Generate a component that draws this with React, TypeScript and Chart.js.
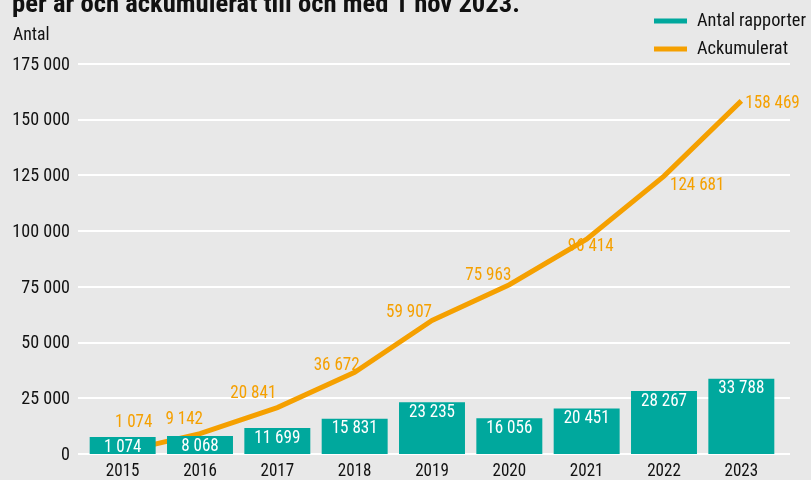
import React, { useEffect, useRef } from "react";
import { Chart, registerables } from "chart.js";

Chart.register(...registerables);

const years = ["2015", "2016", "2017", "2018", "2019", "2020", "2021", "2022", "2023"];
const reports = [1074, 8068, 11699, 15831, 23235, 16056, 20451, 28267, 33788];
const accumulated = [1074, 9142, 20841, 36672, 59907, 75963, 96414, 124681, 158469];
const yTicks = [0, 25000, 50000, 75000, 100000, 125000, 150000, 175000];

const titleText = "per år och ackumulerat till och med 1 nov 2023.";
const yAxisTitle = "Antal";
const seriesNames = ["Antal rapporter", "Ackumulerat"];

// label placement for line labels: [align, dx, dy]
const lineLabelPlacement: [CanvasTextAlign, number, number][] = [
  ["center", 11, -29],
  ["right", 3, -14],
  ["right", -1, -14],
  ["right", 5, -7],
  ["right", 0, -8],
  ["right", 2, -9],
  ["center", 4, 7],
  ["left", 6, 9],
  ["left", 4, 2],
];

const TEAL = "#00A89D";
const ORANGE = "#F5A000";
const BG = "#E8E8E8";
const INK = "#111111";
const FONT = "'Roboto Condensed', 'Liberation Sans Narrow', 'DejaVu Sans Condensed', 'DejaVu Sans', sans-serif";
const BODY = `19px ${FONT}`;
const TITLE = `bold 25px ${FONT}`;

const fmt = (n: number) => String(n).replace(/\B(?=(\d{3})+(?!\d))/g, " ");

// draw text horizontally fitted so that the face matches the reference type
function txt(ctx: CanvasRenderingContext2D, s: string, x: number, y: number, align: CanvasTextAlign, sx: number) {
  ctx.save();
  ctx.translate(x, y);
  ctx.scale(sx, 1);
  ctx.textAlign = align;
  ctx.fillText(s, 0, 0);
  ctx.restore();
}

function bodyScale(ctx: CanvasRenderingContext2D) {
  ctx.font = BODY;
  const w = ctx.measureText("23 235").width;
  return 46 / w;
}

const decorPlugin = {
  id: "decor",
  beforeDatasetsDraw(chart: any) {
    const { ctx, scales } = chart;
    const y = scales.y;
    ctx.save();
    ctx.strokeStyle = "#ffffff";
    ctx.lineWidth = 2;
    yTicks.forEach((v) => {
      const py = Math.round(y.getPixelForValue(v));
      ctx.beginPath();
      ctx.moveTo(78, py);
      ctx.lineTo(790, py);
      ctx.stroke();
    });
    ctx.restore();
  },
  afterDatasetsDraw(chart: any) {
    const { ctx, scales } = chart;
    ctx.save();
    const sx = bodyScale(ctx);
    ctx.font = BODY;
    ctx.textBaseline = "middle";
    // bar labels
    const barMeta = chart.getDatasetMeta(0);
    ctx.fillStyle = "#ffffff";
    barMeta.data.forEach((el: any, i: number) => {
      txt(ctx, fmt(reports[i]), el.x, el.y + 10, "center", sx);
    });
    // line labels
    const lineMeta = chart.getDatasetMeta(1);
    ctx.fillStyle = ORANGE;
    lineMeta.data.forEach((el: any, i: number) => {
      const [al, dx, dy] = lineLabelPlacement[i];
      txt(ctx, fmt(accumulated[i]), el.x + dx, el.y + dy, al, sx);
    });
    // axis tick labels
    ctx.fillStyle = INK;
    yTicks.forEach((v) => {
      txt(ctx, fmt(v), 70, scales.y.getPixelForValue(v) + 1, "right", sx * 1.06);
    });
    years.forEach((yr, i) => {
      txt(ctx, yr, scales.x.getPixelForValue(i), 471, "center", sx);
    });
    ctx.restore();
  },
  afterDraw(chart: any) {
    const { ctx } = chart;
    ctx.save();
    const sx = bodyScale(ctx);
    // title (cut off at top)
    ctx.font = TITLE;
    ctx.fillStyle = INK;
    ctx.textBaseline = "alphabetic";
    const tw = ctx.measureText(titleText).width;
    txt(ctx, titleText, 12, 12, "left", 508 / tw);
    // y axis title
    ctx.font = BODY;
    ctx.textBaseline = "middle";
    txt(ctx, yAxisTitle, 13, 35, "left", sx * 1.04);
    // legend
    const colors = [TEAL, ORANGE];
    const ys = [21, 49];
    const lw = ctx.measureText(seriesNames[0]).width;
    const lsx = 109 / lw;
    seriesNames.forEach((name, i) => {
      ctx.strokeStyle = colors[i];
      ctx.lineWidth = 5;
      ctx.beginPath();
      ctx.moveTo(654, ys[i]);
      ctx.lineTo(687, ys[i]);
      ctx.stroke();
      ctx.fillStyle = INK;
      txt(ctx, name, 697, ys[i], "left", lsx);
    });
    ctx.restore();
  },
};

export default function App() {
  const ref = useRef<HTMLCanvasElement | null>(null);
  useEffect(() => {
    document.body.style.margin = "0";
    if (!ref.current) return;
    Chart.defaults.font.family = FONT;
    const chart = new Chart(ref.current, {
      type: "bar",
      data: {
        labels: years,
        datasets: [
          {
            type: "bar",
            label: seriesNames[0],
            data: reports,
            backgroundColor: TEAL,
            barPercentage: 0.853,
            categoryPercentage: 1,
            minBarLength: 17,
            order: 1,
          } as any,
          {
            type: "line",
            label: seriesNames[1],
            data: accumulated,
            borderColor: ORANGE,
            backgroundColor: ORANGE,
            borderWidth: 5,
            pointRadius: 0,
            tension: 0,
            order: 2,
          } as any,
        ],
      },
      options: {
        responsive: false,
        animation: false,
        layout: { padding: { left: 0, right: 31, top: 64, bottom: 0 } },
        plugins: {
          legend: { display: false },
          tooltip: { enabled: false },
        },
        scales: {
          x: {
            grid: { display: false, drawTicks: false },
            border: { display: false },
            ticks: { display: false },
            afterFit: (s: any) => {
              s.height = 26;
            },
          },
          y: {
            min: 0,
            max: 175000,
            grid: { display: false, drawTicks: false },
            border: { display: false },
            ticks: { display: false, stepSize: 25000 },
            afterFit: (s: any) => {
              s.width = 84;
            },
          },
        },
      },
      plugins: [decorPlugin],
    });
    return () => chart.destroy();
  }, []);
  return (
    <div style={{ width: 811, height: 480, background: BG }}>
      <canvas ref={ref} width={811} height={480} />
    </div>
  );
}
